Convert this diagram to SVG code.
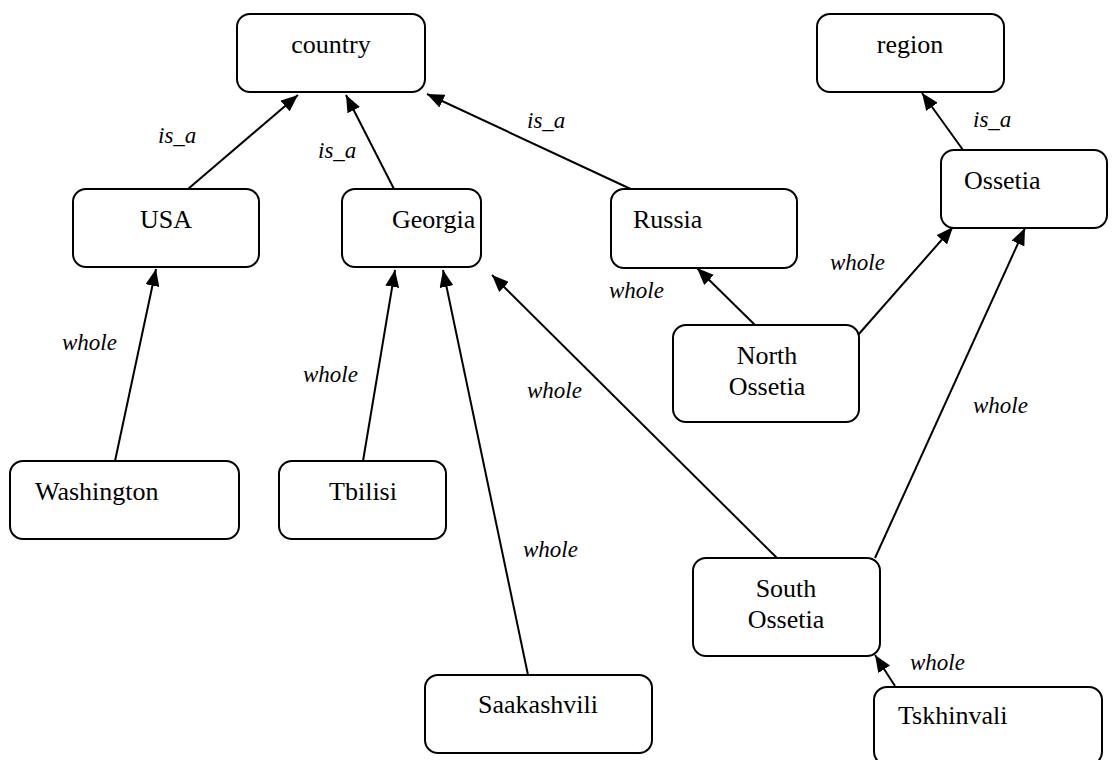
<svg xmlns="http://www.w3.org/2000/svg" width="1119" height="760" viewBox="0 0 1119 760">
<style>
.box{fill:#fff;stroke:#000;stroke-width:2}
.nt{font-family:"Liberation Serif","Times New Roman",serif;font-size:26px;fill:#000}
.lb{font-family:"Liberation Serif","Times New Roman",serif;font-size:23px;font-style:italic;fill:#000}
.e{stroke:#000;stroke-width:2;fill:none;marker-end:url(#ah)}
</style>
<defs>
<marker id="ah" markerUnits="userSpaceOnUse" markerWidth="18" markerHeight="14" refX="17" refY="7" orient="auto">
<path d="M0,0 L17,7 L0,14 z" fill="#000"/>
</marker>
</defs>
<rect width="1119" height="760" fill="#fff"/>
<g id="connectors">
<line class="e" x1="188" y1="189" x2="298" y2="95"/>
<line class="e" x1="394" y1="189" x2="346" y2="95"/>
<line class="e" x1="635" y1="191" x2="427" y2="94"/>
<line class="e" x1="963" y1="150" x2="922" y2="93"/>
<line class="e" x1="755" y1="325" x2="697" y2="268"/>
<line class="e" x1="858" y1="335" x2="953" y2="227"/>
<line class="e" x1="875" y1="558" x2="1025" y2="228"/>
<line class="e" x1="777" y1="558" x2="492" y2="275"/>
<line class="e" x1="895" y1="686" x2="875" y2="655"/>
<line class="e" x1="115" y1="461" x2="156" y2="269"/>
<line class="e" x1="363" y1="461" x2="395" y2="270"/>
<line class="e" x1="528" y1="675" x2="443" y2="270"/>
<text class="lb" x="158" y="143">is_a</text>
<text class="lb" x="318" y="158">is_a</text>
<text class="lb" x="527" y="128">is_a</text>
<text class="lb" x="973" y="127">is_a</text>
<text class="lb" x="609" y="298">whole</text>
<text class="lb" x="830" y="270">whole</text>
<text class="lb" x="973" y="413">whole</text>
<text class="lb" x="527" y="398">whole</text>
<text class="lb" x="62" y="350">whole</text>
<text class="lb" x="303" y="382">whole</text>
<text class="lb" x="523" y="557">whole</text>
<text class="lb" x="910" y="670">whole</text>
</g>
<g id="country"><rect class="box" x="237" y="14" width="188" height="78" rx="13"/><text class="nt" x="331" y="53" text-anchor="middle">country</text></g>
<g id="region"><rect class="box" x="817" y="14" width="187" height="78" rx="13"/><text class="nt" x="910" y="53" text-anchor="middle">region</text></g>
<g id="usa"><rect class="box" x="73" y="189" width="186" height="78" rx="13"/><text class="nt" x="166" y="228" text-anchor="middle">USA</text></g>
<g id="georgia"><rect class="box" x="342" y="189" width="139" height="78" rx="13"/><text class="nt" x="392" y="228">Georgia</text></g>
<g id="russia"><rect class="box" x="611" y="189" width="186" height="79" rx="13"/><text class="nt" x="633" y="228">Russia</text></g>
<g id="ossetia"><rect class="box" x="941" y="150" width="166" height="78" rx="13"/><text class="nt" x="964" y="189">Ossetia</text></g>
<g id="washington"><rect class="box" x="10" y="461" width="229" height="78" rx="13"/><text class="nt" x="35" y="500">Washington</text></g>
<g id="tbilisi"><rect class="box" x="279" y="461" width="167" height="78" rx="13"/><text class="nt" x="363" y="500" text-anchor="middle">Tbilisi</text></g>
<g id="north-ossetia"><rect class="box" x="673" y="325" width="186" height="97" rx="13"/><text class="nt" x="767" y="364" text-anchor="middle">North</text><text class="nt" x="767" y="395" text-anchor="middle">Ossetia</text></g>
<g id="south-ossetia"><rect class="box" x="693" y="558" width="187" height="98" rx="13"/><text class="nt" x="786" y="597" text-anchor="middle">South</text><text class="nt" x="786" y="628" text-anchor="middle">Ossetia</text></g>
<g id="saakashvili"><rect class="box" x="425" y="675" width="227" height="78" rx="13"/><text class="nt" x="538" y="713" text-anchor="middle">Saakashvili</text></g>
<g id="tskhinvali"><rect class="box" x="874" y="687" width="228" height="78" rx="13"/><text class="nt" x="898" y="724">Tskhinvali</text></g>
</svg>
